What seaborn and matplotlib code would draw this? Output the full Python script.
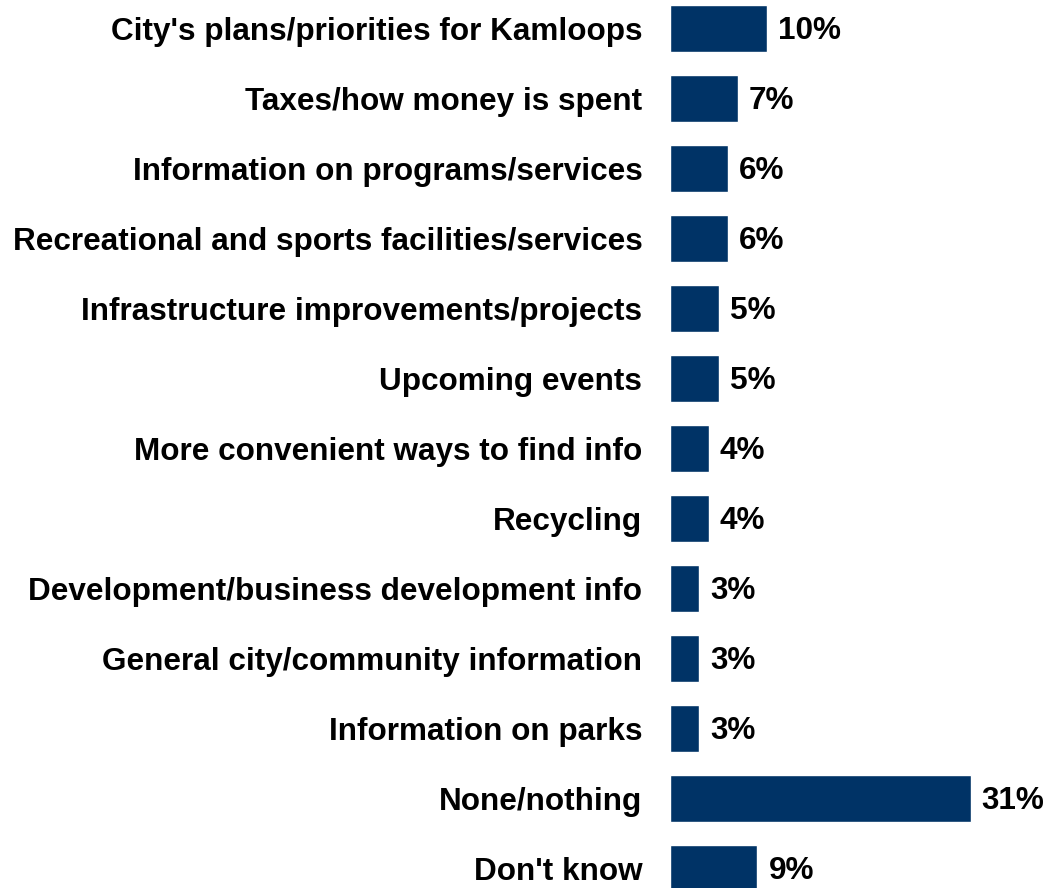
import matplotlib
matplotlib.use("Agg")
import matplotlib.pyplot as plt
import seaborn as sns
import pandas as pd

# ── Data ──────────────────────────────────────────────────────────────────
categories = [
    "City's plans/priorities for Kamloops",
    "Taxes/how money is spent",
    "Information on programs/services",
    "Recreational and sports facilities/services",
    "Infrastructure improvements/projects",
    "Upcoming events",
    "More convenient ways to find info",
    "Recycling",
    "Development/business development info",
    "General city/community information",
    "Information on parks",
    "None/nothing",
    "Don't know",
]
values = [10, 7, 6, 6, 5, 5, 4, 4, 3, 3, 3, 31, 9]
value_labels = [f"{v}%" for v in values]

BAR_COLOR = "#003366"
FS = 22.7

# ── Plot ──────────────────────────────────────────────────────────────────
sns.set_theme(style="white")
plt.rcParams["font.family"] = ["Liberation Sans", "DejaVu Sans"]

df = pd.DataFrame({"category": categories, "value": values})

fig = plt.figure(figsize=(10.44, 8.88), dpi=100)
ax = fig.add_axes([0.6418, 0.0, 0.353, 1.0])

sns.barplot(data=df, x="value", y="category", color=BAR_COLOR,
            width=0.67, saturation=1, ax=ax)

for patch, lab in zip(ax.patches, value_labels):
    ax.annotate(lab, (patch.get_width(), patch.get_y() + patch.get_height() / 2),
                xytext=(8, -1.5), textcoords="offset points",
                ha="left", va="center", fontsize=FS, fontweight="bold",
                color="black")

ax.set_xlim(0, 38)
ax.set_ylim(12.279, -0.407)
ax.set_xlabel("")
ax.set_ylabel("")
ax.set_xticks([])
ax.tick_params(axis="y", length=0, pad=20)
for t in ax.get_yticklabels():
    t.set_fontsize(FS)
    t.set_fontweight("bold")
    t.set_color("black")
sns.despine(ax=ax, left=True, bottom=True)

fig.savefig("out.png", dpi=100)
